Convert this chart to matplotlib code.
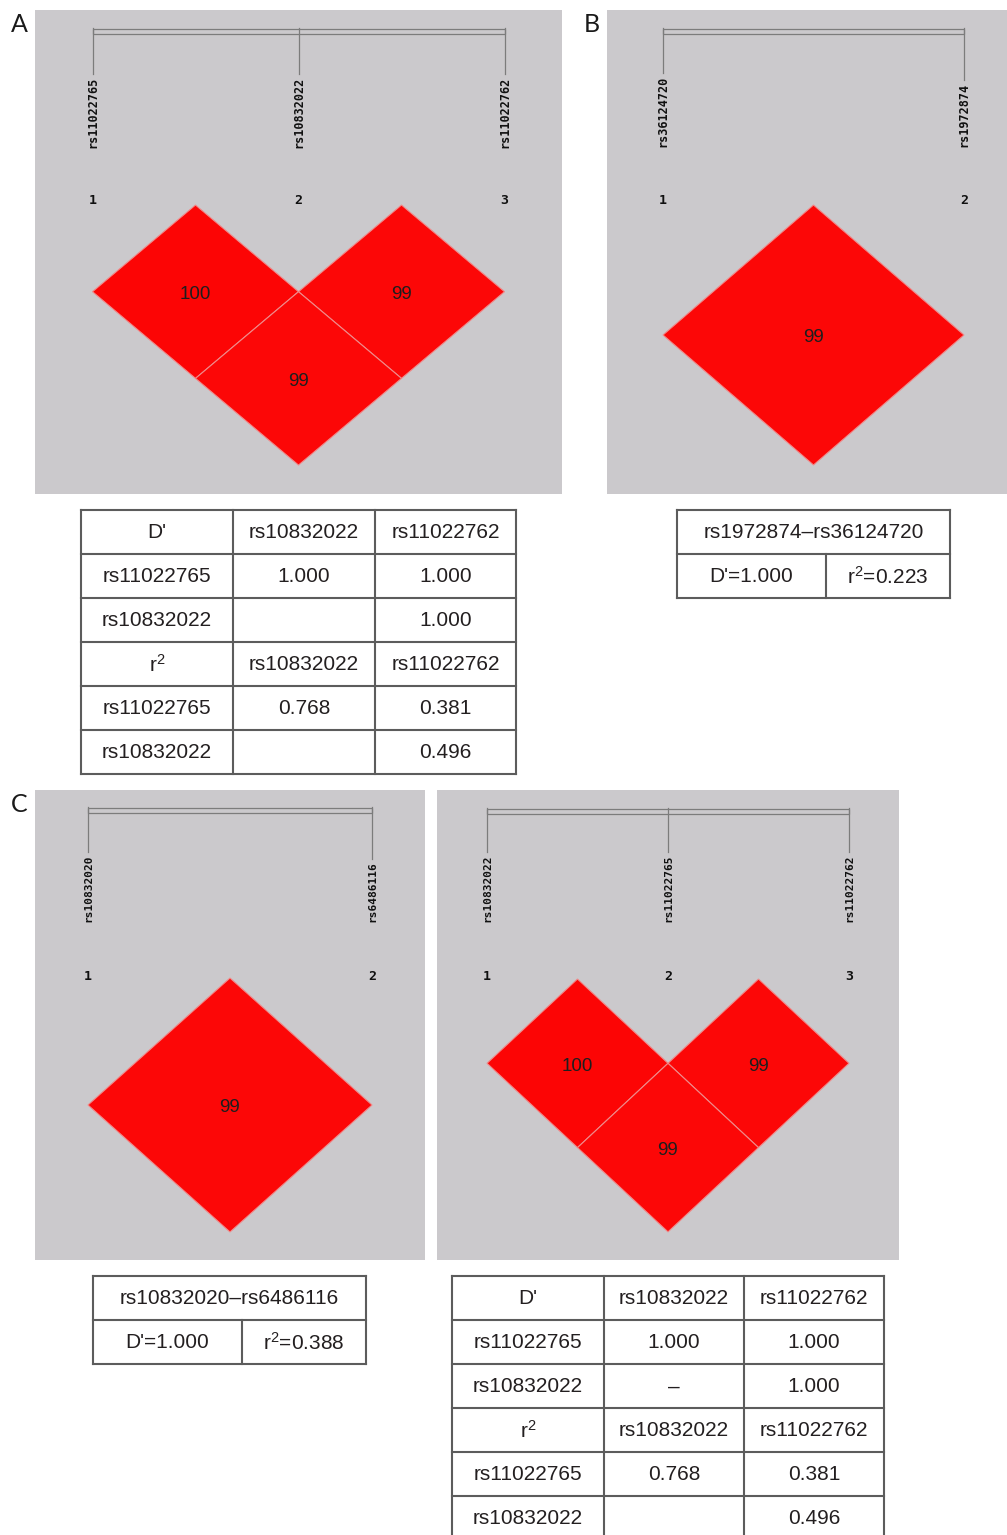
import matplotlib
matplotlib.use("Agg")
import matplotlib.pyplot as plt
from matplotlib.patches import Polygon, Rectangle

plt.rcParams['font.family'] = ['Liberation Sans', 'DejaVu Sans']
plt.rcParams['mathtext.fontset'] = 'custom'
plt.rcParams['mathtext.rm'] = 'Liberation Sans'
plt.rcParams['mathtext.default'] = 'regular'

# ---------------- data ----------------
snps_a = ["rs11022765", "rs10832022", "rs11022762"]
pairs_a = [(0, 1), (1, 2), (0, 2)]
dprime_a = [100, 99, 99]

snps_b = ["rs36124720", "rs1972874"]
pairs_b = [(0, 1)]
dprime_b = [99]

snps_c1 = ["rs10832020", "rs6486116"]
pairs_c1 = [(0, 1)]
dprime_c1 = [99]

snps_c2 = ["rs10832022", "rs11022765", "rs11022762"]
pairs_c2 = [(0, 1), (1, 2), (0, 2)]
dprime_c2 = [100, 99, 99]

dp_header = ["D'", "rs10832022", "rs11022762"]
r2_header = ["r$^2$", "rs10832022", "rs11022762"]
row_snps = ["rs11022765", "rs10832022"]
dp_values_a = [["1.000", "1.000"], ["", "1.000"]]
r2_values_a = [["0.768", "0.381"], ["", "0.496"]]
dp_values_c = [["1.000", "1.000"], ["\u2013", "1.000"]]
r2_values_c = [["0.768", "0.381"], ["", "0.496"]]

pair_title_b = "rs1972874\u2013rs36124720"
pair_vals_b = ["D'=1.000", "r$^2$=0.223"]
pair_title_c = "rs10832020\u2013rs6486116"
pair_vals_c = ["D'=1.000", "r$^2$=0.388"]

# ---------------- layout ----------------
W, H = 1007, 1535
GREY = "#cbc9cc"
LINE = "#7c7c7c"
TXT = "#231f20"
TAB_LINE = "#5c5c5c"

fig = plt.figure(figsize=(W / 100, H / 100), dpi=100)
fig.patch.set_facecolor("white")

ov = fig.add_axes([0, 0, 1, 1])
ov.set_xlim(0, W)
ov.set_ylim(H, 0)
ov.axis("off")
ov.patch.set_alpha(0)


def draw_ld(rect, snps, pairs, vals, xfirst, xlast, y0, h, bar_top, bar_bot,
            lab_bottom, num_y, char_px, lab_fs):
    L, T, R, B = rect
    n = len(snps)
    s = (xlast - xfirst) / (n - 1)
    ax = fig.add_axes([L / W, 1 - B / H, (R - L) / W, (B - T) / H])
    ax.set_xlim((L - xfirst) / s, (R - xfirst) / s)
    ax.set_ylim((y0 - B) / h, (y0 - T) / h)
    ax.set_facecolor(GREY)
    ax.set_xticks([])
    ax.set_yticks([])
    for sp in ax.spines.values():
        sp.set_visible(False)

    def py(p):
        return (y0 - p) / h

    ax.add_patch(Rectangle((0, py(bar_bot)), n - 1, py(bar_top) - py(bar_bot),
                           fill=False, ec=LINE, lw=0.9))
    for i, name in enumerate(snps):
        lab_top = lab_bottom - len(name) * char_px
        ax.plot([i, i], [py(bar_top - 1), py(lab_top - 5)], color=LINE, lw=0.9)
        ax.text(i, py(lab_bottom), name, rotation=90, ha="center", va="bottom",
                family="DejaVu Sans Mono", weight="bold", fontsize=lab_fs,
                color="#101010")
        ax.text(i, py(num_y), str(i + 1), ha="center", va="center",
                family="DejaVu Sans Mono", weight="bold", fontsize=9.5,
                color="#101010")
    for (i, j), v in zip(pairs, vals):
        d = j - i
        cx, cy = (i + j) / 2, -d
        frac = v / 100
        col = (0.99, 0.02 + 0.9 * (1 - frac), 0.02 + 0.9 * (1 - frac))
        ax.add_patch(Polygon([(cx, cy + 1), (cx + 0.5, cy), (cx, cy - 1),
                              (cx - 0.5, cy)], closed=True, fc=col,
                             ec="#f08a8a", lw=0.8))
        ax.text(cx, cy - 3 / h, str(v), ha="center", va="center",
                fontsize=13.5, color="#1e1e1e")
    return ax


draw_ld((35, 10, 562, 494), snps_a, pairs_a, dprime_a, 92.5, 504.5, 205, 86.7,
        29, 34, 148, 201, 6.9, 8.5)
draw_ld((607, 10, 1007, 494), snps_b, pairs_b, dprime_b, 663, 964, 205, 130,
        29, 34, 147, 201, 6.9, 8.5)
draw_ld((35, 790, 425, 1260), snps_c1, pairs_c1, dprime_c1, 88, 372, 978, 127,
        808, 813, 922, 976, 6.5, 8.0)
draw_ld((437, 790, 899, 1260), snps_c2, pairs_c2, dprime_c2, 487, 849, 979, 84.3,
        809, 814, 922, 976, 6.5, 8.0)

TFS = 15


def hline(x0, x1, y):
    ov.plot([x0, x1], [y, y], color=TAB_LINE, lw=1.5, solid_capstyle="projecting")


def vline(x, y0, y1):
    ov.plot([x, x], [y0, y1], color=TAB_LINE, lw=1.5, solid_capstyle="projecting")


def cell_text(x, y, t):
    ov.text(x, y + 1, t, ha="center", va="center", fontsize=TFS, color=TXT)


def draw_matrix_table(col_edges, top, rh, dp_vals, r2_vals):
    cells = [dp_header]
    for nm, vals in zip(row_snps, dp_vals):
        cells.append([nm] + vals)
    cells.append(r2_header)
    for nm, vals in zip(row_snps, r2_vals):
        cells.append([nm] + vals)
    y_edges = [top + k * rh for k in range(len(cells) + 1)]
    for y in y_edges:
        hline(col_edges[0], col_edges[-1], y)
    for x in col_edges:
        vline(x, y_edges[0], y_edges[-1])
    for r, row in enumerate(cells):
        for c, t in enumerate(row):
            cell_text((col_edges[c] + col_edges[c + 1]) / 2,
                      (y_edges[r] + y_edges[r + 1]) / 2, t)


def draw_pair_table(x0, xm, x1, top, rh, title, vals):
    y_edges = [top, top + rh, top + 2 * rh]
    for y in y_edges:
        hline(x0, x1, y)
    vline(x0, y_edges[0], y_edges[2])
    vline(x1, y_edges[0], y_edges[2])
    vline(xm, y_edges[1], y_edges[2])
    cell_text((x0 + x1) / 2, (y_edges[0] + y_edges[1]) / 2, title)
    cell_text((x0 + xm) / 2, (y_edges[1] + y_edges[2]) / 2, vals[0])
    cell_text((xm + x1) / 2, (y_edges[1] + y_edges[2]) / 2, vals[1])


draw_matrix_table([81, 233, 375, 516], 510, 44, dp_values_a, r2_values_a)
draw_pair_table(677, 826, 950, 510, 44, pair_title_b, pair_vals_b)
draw_pair_table(93, 242, 366, 1276, 44, pair_title_c, pair_vals_c)
draw_matrix_table([452, 604, 744, 884], 1276, 44, dp_values_c, r2_values_c)

for lab, x, y in [("A", 19, 25), ("B", 592, 25), ("C", 19, 805)]:
    ov.text(x, y, lab, ha="center", va="center", fontsize=18, family="Lato",
            color="#1a1a1a")

fig.savefig("out.png", dpi=100)
